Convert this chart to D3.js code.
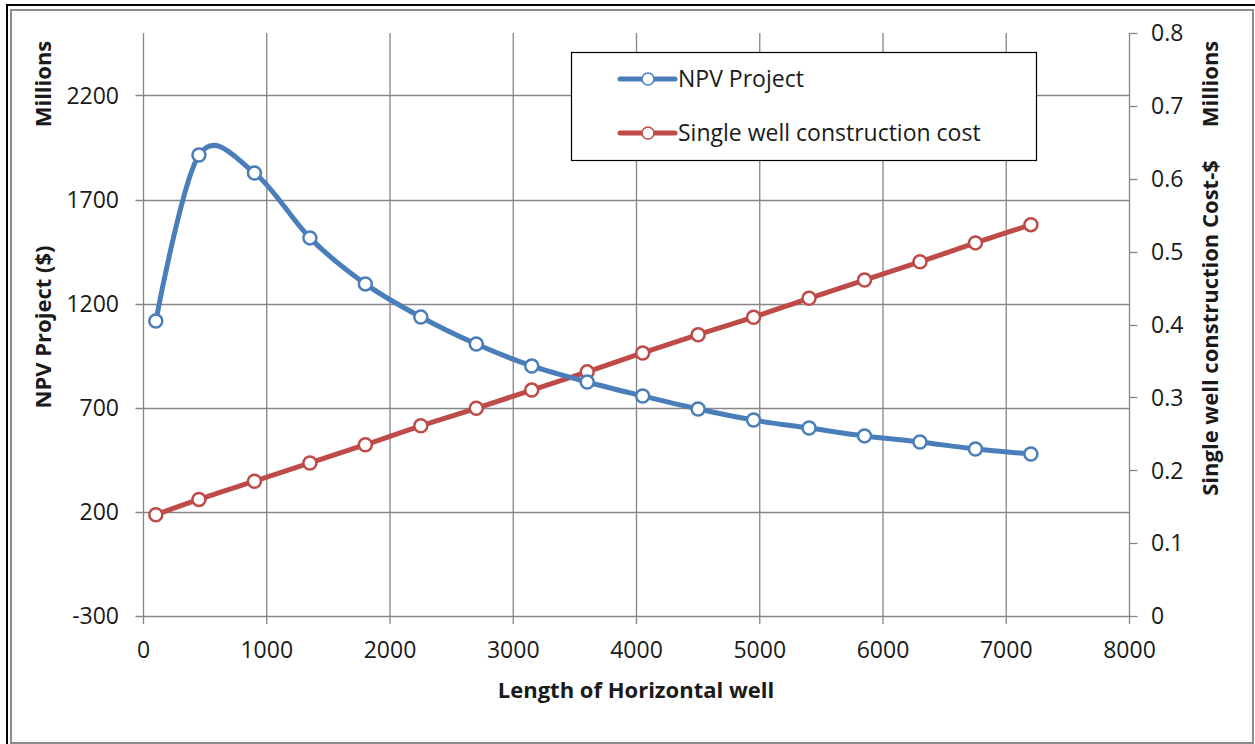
<!DOCTYPE html>
<html>
<head>
<meta charset="utf-8">
<script src="https://cdn.jsdelivr.net/npm/d3@7"></script>
<style>
  html, body { margin: 0; padding: 0; background: #ffffff; }
  svg { display: block; }
  text { font-family: "Open Sans", "DejaVu Sans", sans-serif; fill: #1a1a1a; }
</style>
</head>
<body>
<svg id="chart" width="1255" height="744"></svg>
<script>
// ---- data ----
const lengths = [100, 450, 900, 1350, 1800, 2250, 2700, 3150, 3600, 4050, 4500, 4950, 5400, 5850, 6300, 6750, 7200];
const npvProject = [1117, 1914, 1828, 1516, 1295, 1136, 1006, 901, 824, 757, 694, 641, 603, 565, 536, 502, 478];
const wellCost = [0.139, 0.160, 0.185, 0.210, 0.235, 0.261, 0.285, 0.310, 0.335, 0.361, 0.386, 0.410, 0.436, 0.461, 0.486, 0.512, 0.537];
const xTicks = [0, 1000, 2000, 3000, 4000, 5000, 6000, 7000, 8000];
const leftTicks = [-300, 200, 700, 1200, 1700, 2200];
const rightTicks = [0, 0.1, 0.2, 0.3, 0.4, 0.5, 0.6, 0.7, 0.8];
const seriesNames = ["NPV Project", "Single well construction cost"];
const seriesColors = ["#4a7ebb", "#be4b48"];

// ---- layout ----
const svg = d3.select("#chart");
const plot = { left: 143.5, right: 1129.5, top: 33, bottom: 616 };
const x = d3.scaleLinear().domain([0, 8000]).range([plot.left, plot.right]);
const yL = d3.scaleLinear().domain([-300, 2500]).range([plot.bottom, plot.top]);
const yR = d3.scaleLinear().domain([0, 0.8]).range([plot.bottom, plot.top]);
const gridColor = "#868686";

// frame
svg.append("rect").attr("x", 0).attr("y", 0).attr("width", 1255).attr("height", 744).attr("fill", "#fff");
svg.append("line").attr("x1", 6).attr("x2", 1255).attr("y1", 5).attr("y2", 5).attr("stroke", "#000").attr("stroke-width", 2);
svg.append("line").attr("x1", 7).attr("x2", 7).attr("y1", 5).attr("y2", 744).attr("stroke", "#000").attr("stroke-width", 2);
svg.append("rect").attr("x", 11).attr("y", 10).attr("width", 1242).attr("height", 733)
  .attr("fill", "none").attr("stroke", "#8c8c8c").attr("stroke-width", 2);

// horizontal gridlines (left axis ticks)
svg.append("g").selectAll("line").data(leftTicks).join("line")
  .attr("x1", plot.left - 8).attr("x2", plot.right)
  .attr("y1", d => Math.round(yL(d)) + 0.5).attr("y2", d => Math.round(yL(d)) + 0.5)
  .attr("stroke", gridColor).attr("stroke-width", 1.3);

// vertical gridlines (x ticks)
svg.append("g").selectAll("line").data(xTicks).join("line")
  .attr("x1", d => x(d)).attr("x2", d => x(d))
  .attr("y1", plot.top).attr("y2", plot.bottom + 8)
  .attr("stroke", gridColor).attr("stroke-width", 1.3);

// right axis ticks
svg.append("g").selectAll("line").data(rightTicks).join("line")
  .attr("x1", plot.right).attr("x2", plot.right + 8)
  .attr("y1", d => Math.round(yR(d)) + 0.5).attr("y2", d => Math.round(yR(d)) + 0.5)
  .attr("stroke", gridColor).attr("stroke-width", 1.3);

// tick labels
const tickFont = 23;
svg.append("g").selectAll("text").data(leftTicks).join("text")
  .attr("x", 119).attr("y", d => yL(d)).attr("dy", "0.36em")
  .attr("text-anchor", "end").attr("font-size", tickFont).text(d => d);
svg.append("g").selectAll("text").data(rightTicks).join("text")
  .attr("x", 1151).attr("y", d => yR(d)).attr("dy", "0.36em")
  .attr("text-anchor", "start").attr("font-size", tickFont)
  .text(d => d === 0 ? "0" : d3.format(".1f")(d));
svg.append("g").selectAll("text").data(xTicks).join("text")
  .attr("x", d => x(d)).attr("y", 658)
  .attr("text-anchor", "middle").attr("font-size", tickFont).text(d => d);

// axis titles
const titleFont = 22;
function vtext(tx, ty, str) {
  svg.append("text").attr("transform", `translate(${tx},${ty}) rotate(-90)`)
    .attr("text-anchor", "middle").attr("font-size", titleFont).attr("font-weight", "bold").text(str);
}
vtext(51, 84, "Millions");
vtext(51, 327, "NPV Project ($)");
vtext(1218, 84, "Millions");
vtext(1218, 328, "Single well construction Cost-$");
svg.append("text").attr("x", 636).attr("y", 698).attr("text-anchor", "middle")
  .attr("font-size", titleFont).attr("font-weight", "bold").text("Length of Horizontal well");

// series
const curve = d3.curveCatmullRom.alpha(0);
const npvPts = lengths.map((L, i) => [x(L), yL(npvProject[i])]);
const costPts = lengths.map((L, i) => [x(L), yR(wellCost[i])]);
const line = d3.line().curve(curve);

[costPts, npvPts].forEach((pts, k) => {
  const color = k === 0 ? seriesColors[1] : seriesColors[0];
  svg.append("path").attr("d", line(pts)).attr("fill", "none")
    .attr("stroke", color).attr("stroke-width", 5).attr("stroke-linejoin", "round").attr("stroke-linecap", "round");
  svg.append("g").selectAll("circle").data(pts).join("circle")
    .attr("cx", d => d[0]).attr("cy", d => d[1]).attr("r", 6.5)
    .attr("fill", "#fff").attr("stroke", color).attr("stroke-width", 2.5);
});

// legend
const lg = svg.append("g");
lg.append("rect").attr("x", 571.5).attr("y", 52.5).attr("width", 465).attr("height", 108)
  .attr("fill", "#fff").attr("stroke", "#000").attr("stroke-width", 1.2);
seriesNames.forEach((name, i) => {
  const yy = 79 + i * 54;
  lg.append("line").attr("x1", 620).attr("x2", 675).attr("y1", yy).attr("y2", yy)
    .attr("stroke", seriesColors[i]).attr("stroke-width", 5).attr("stroke-linecap", "round");
  lg.append("circle").attr("cx", 648).attr("cy", yy).attr("r", 6)
    .attr("fill", "#fff").attr("stroke", seriesColors[i]).attr("stroke-width", 1.5);
  lg.append("text").attr("x", 678).attr("y", yy).attr("dy", "0.36em")
    .attr("font-size", 23).text(name);
});
</script>
</body>
</html>
